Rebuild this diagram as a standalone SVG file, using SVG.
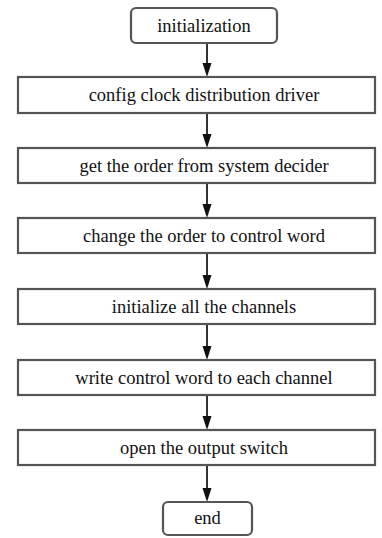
<svg xmlns="http://www.w3.org/2000/svg" width="382" height="538" viewBox="0 0 382 538">
<style>
.box{fill:#fff;stroke:#555;stroke-width:2.2}
.t{font-family:'Liberation Serif','Times New Roman',serif;font-size:18.5px;fill:#111;text-anchor:middle}
.c{stroke:#333;stroke-width:2;fill:none}
.ah{fill:#111}
</style>
<rect width="382" height="538" fill="#fff"/>
<g id="connectors">
<line class="c" x1="207" y1="43" x2="207" y2="65"/>
<line class="c" x1="207" y1="113" x2="207" y2="136"/>
<line class="c" x1="207" y1="183" x2="207" y2="206"/>
<line class="c" x1="207" y1="253" x2="207" y2="277"/>
<line class="c" x1="207" y1="324" x2="207" y2="348"/>
<line class="c" x1="207" y1="395" x2="207" y2="418"/>
<line class="c" x1="207" y1="465" x2="207" y2="490"/>
<path class="ah" d="M202.5,63 L211.5,63 L207,77 Z"/>
<path class="ah" d="M202.5,134 L211.5,134 L207,148 Z"/>
<path class="ah" d="M202.5,204 L211.5,204 L207,218 Z"/>
<path class="ah" d="M202.5,275 L211.5,275 L207,289 Z"/>
<path class="ah" d="M202.5,346 L211.5,346 L207,360 Z"/>
<path class="ah" d="M202.5,416 L211.5,416 L207,430 Z"/>
<path class="ah" d="M202.5,488 L211.5,488 L207,502 Z"/>
</g>
<g id="n0"><rect class="box" x="131" y="8" width="146" height="35" rx="5"/><text class="t" x="204" y="31.5">initialization</text></g>
<g id="n1"><rect class="box" x="18" y="77" width="357" height="36"/><text class="t" x="204" y="101">config clock distribution driver</text></g>
<g id="n2"><rect class="box" x="18" y="148" width="357" height="35"/><text class="t" x="204" y="171.5">get the order from system decider</text></g>
<g id="n3"><rect class="box" x="18" y="218" width="357" height="35"/><text class="t" x="204" y="241.5">change the order to control word</text></g>
<g id="n4"><rect class="box" x="18" y="289" width="357" height="35"/><text class="t" x="204" y="312.5">initialize all the channels</text></g>
<g id="n5"><rect class="box" x="18" y="360" width="357" height="35"/><text class="t" x="204" y="383.5">write control word to each channel</text></g>
<g id="n6"><rect class="box" x="18" y="430" width="357" height="35"/><text class="t" x="204" y="453.5">open the output switch</text></g>
<g id="n7"><rect class="box" x="163" y="502" width="89" height="33" rx="5"/><text class="t" x="207.5" y="524">end</text></g>
</svg>
